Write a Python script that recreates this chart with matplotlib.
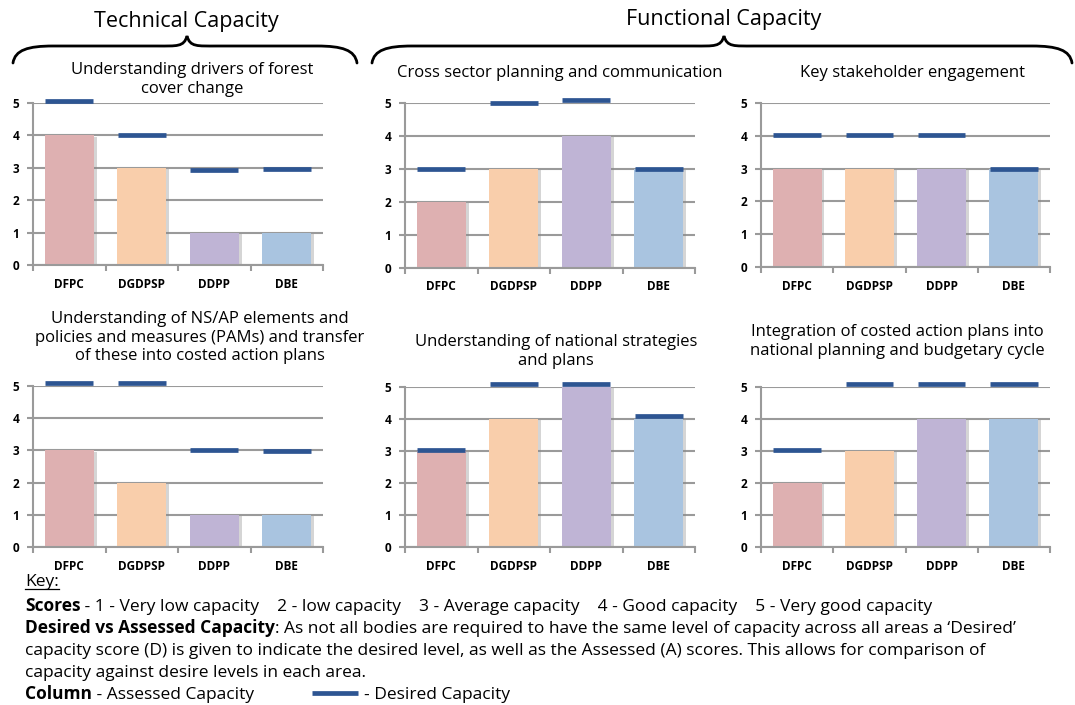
import matplotlib
matplotlib.use("Agg")
import matplotlib.pyplot as plt
import matplotlib.patheffects as pe
from matplotlib.path import Path
from matplotlib.patches import PathPatch

plt.rcParams["font.family"] = ["Open Sans", "DejaVu Sans"]

W, H = 1075, 705

BODIES = ["DFPC", "DGDPSP", "DDPP", "DBE"]
BAR_COLORS = ["#DEB0B1", "#F9CEAB", "#BFB4D5", "#A9C4E0"]
DESIRED_COLOR = "#2D5592"

TITLES = [
    "Understanding drivers of forest\ncover change",
    "Cross sector planning and communication",
    "Key stakeholder engagement",
    "Understanding of NS/AP elements and\npolicies and measures (PAMs) and transfer\nof these into costed action plans",
    "Understanding of national strategies\nand plans",
    "Integration of costed action plans into\nnational planning and budgetary cycle",
]

# assessed (columns) and desired (dash markers) scores per panel
ASSESSED = [
    [4, 3, 1, 1],
    [2, 3, 4, 3],
    [3, 3, 3, 3],
    [3, 2, 1, 1],
    [3, 4, 5, 4],
    [2, 3, 4, 4],
]
DESIRED = [
    [5.05, 4.0, 2.92, 2.96],
    [3.0, 5.0, 5.08, 3.0],
    [4.02, 4.02, 4.02, 3.0],
    [5.08, 5.08, 3.02, 2.97],
    [3.04, 5.08, 5.08, 4.09],
    [3.02, 5.1, 5.1, 5.1],
]

# axes boxes in pixels: left, right, top (y=5), bottom (y=0)
BOXES = [
    (33, 323, 103, 265),
    (405, 695, 103, 268),
    (761, 1050, 103, 267),
    (33, 323, 386, 547),
    (405, 695, 387, 547),
    (761, 1050, 387, 547),
]
TITLE_POS = [(192, 62), (560, 65), (912, 65), (200, 311), (556, 334), (897, 324)]

GRID = "#9A9A9A"

fig = plt.figure(figsize=(W / 100, H / 100), dpi=100)

for k in range(6):
    l, r, t, b = BOXES[k]
    ax = fig.add_axes([l / W, 1 - b / H, (r - l) / W, (b - t) / H])
    x = range(len(BODIES))
    bars = ax.bar(x, ASSESSED[k], width=0.68, color=BAR_COLORS, zorder=2)
    for p in bars:
        p.set_path_effects([pe.SimplePatchShadow(offset=(2, -1), shadow_rgbFace="#888888", alpha=0.35),
                            pe.Normal()])
    for i, d in enumerate(DESIRED[k]):
        ax.hlines(d, i - 0.33, i + 0.33, color=DESIRED_COLOR, lw=3.4,
                  zorder=3, clip_on=False, capstyle="butt")
    ax.set_xlim(-0.5, 3.5)
    ax.set_ylim(0, 5)
    ax.set_yticks(range(6))
    ax.yaxis.grid(True, color=GRID, lw=1.5, zorder=0)
    ax.set_axisbelow(True)
    for s in ["top", "right"]:
        ax.spines[s].set_visible(False)
    for s in ["left", "bottom"]:
        ax.spines[s].set_color(GRID)
        ax.spines[s].set_linewidth(1.5)
    ax.set_xticks(list(x))
    ax.set_xticklabels(BODIES)
    ax.set_xticks([-0.5, 0.5, 1.5, 2.5, 3.5], minor=True)
    ax.tick_params(axis="x", which="major", length=0, pad=9, labelsize=8.5)
    ax.tick_params(axis="x", which="minor", length=4, width=1.5, color=GRID, direction="out")
    ax.tick_params(axis="y", length=4, width=1.5, color=GRID, pad=6, labelsize=8.5)
    for lab in ax.get_xticklabels() + ax.get_yticklabels():
        lab.set_fontweight("bold")

# overlay in pixel coordinates for braces, headings and key
ov = fig.add_axes([0, 0, 1, 1], zorder=5)
ov.set_xlim(0, W)
ov.set_ylim(H, 0)
ov.axis("off")


def brace(x0, x1, xm, ybase, ytip, yend):
    verts = [
        (x0, yend),
        (x0 + 2, ybase + 4), (x0 + 15, ybase), (x0 + 40, ybase),
        (xm - 30, ybase),
        (xm - 10, ybase), (xm - 3, ybase + 1), (xm, ytip),
        (xm + 3, ybase + 1), (xm + 10, ybase), (xm + 30, ybase),
        (x1 - 40, ybase),
        (x1 - 15, ybase), (x1 - 2, ybase + 4), (x1, yend),
    ]
    codes = [Path.MOVETO] + [Path.CURVE4] * 3 + [Path.LINETO] + [Path.CURVE4] * 6 + \
            [Path.LINETO] + [Path.CURVE4] * 3
    ov.add_patch(PathPatch(Path(verts, codes), fill=False, lw=2, color="black",
                           capstyle="round"))


brace(13, 357, 187, 46, 36, 63)
brace(372, 1072, 724, 46, 36, 63)
ov.text(186, 21, "Technical Capacity", ha="center", va="center", fontsize=15.5)
ov.text(724, 19, "Functional Capacity", ha="center", va="center", fontsize=15.5)

for k in range(6):
    tx, ty = TITLE_POS[k]
    ov.text(tx, ty, TITLES[k], ha="center", va="top", fontsize=12, linespacing=1.22)

# key
fs = 12.5
key = ov.text(25, 586, "Key:", fontsize=fs, va="baseline")
fig.canvas.draw()
bb = key.get_window_extent().transformed(ov.transData.inverted())
ov.plot([bb.x0, bb.x1], [589, 589], color="black", lw=0.9)


def mixed(y, parts):
    prev = None
    for txt, wt in parts:
        if prev is None:
            prev = ov.text(25, y, txt, fontsize=fs, fontweight=wt, va="baseline")
        else:
            prev = ov.annotate(txt, xy=(1, 0), xycoords=prev, fontsize=fs,
                               fontweight=wt, va="bottom")


mixed(611, [("Scores", "bold"),
            (" - 1 - Very low capacity    2 - low capacity    3 - Average capacity    "
             "4 - Good capacity    5 - Very good capacity", "normal")])
mixed(633, [("Desired vs Assessed Capacity", "bold"),
            (": As not all bodies are required to have the same level of capacity "
             "across all areas a \u2018Desired\u2019", "normal")])
mixed(655, [("capacity score (D) is given to indicate the desired level, as well as the "
             "Assessed (A) scores. This allows for comparison of", "normal")])
mixed(677, [("capacity against desire levels in each area.", "normal")])
mixed(699, [("Column", "bold"), (" - Assessed Capacity", "normal")])
ov.plot([312, 358], [693, 693], color=DESIRED_COLOR, lw=3.4, solid_capstyle="butt")
ov.text(364, 699, "- Desired Capacity", fontsize=fs, va="baseline")

fig.savefig("out.png", dpi=100)
